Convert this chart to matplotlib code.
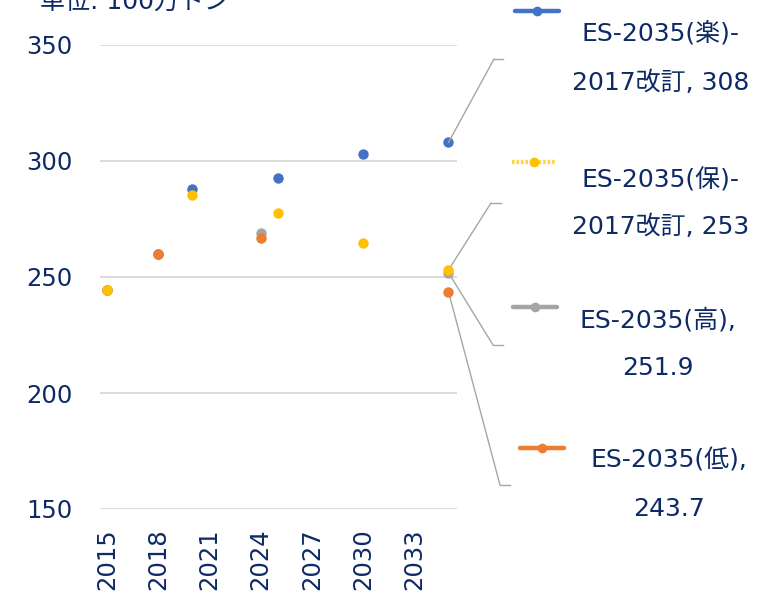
import matplotlib.pyplot as plt
from matplotlib.lines import Line2D

plt.rcParams['font.family'] = ['DejaVu Sans', 'Noto Sans CJK JP']

# data (unit: 100万トン)
years_raku = [2015, 2018, 2020, 2025, 2030, 2035]
vals_raku = [244.5, 260, 288, 292.5, 303, 308]
years_ho = [2015, 2020, 2025, 2030, 2035]
vals_ho = [244.5, 285.5, 277.5, 264.5, 253]
years_ko = [2015, 2018, 2024, 2035]
vals_ko = [244.5, 260, 269, 251.9]
years_tei = [2015, 2018, 2024, 2035]
vals_tei = [244.5, 260, 267, 243.7]

names = ['ES-2035(楽)-\n2017改訂', 'ES-2035(保)-\n2017改訂', 'ES-2035(高),\n', 'ES-2035(低),\n']
label_vals = ['308', '253', '251.9', '243.7']
colors = ['#4472C4', '#FFC000', '#A5A5A5', '#ED7D31']
xticks = [2015, 2018, 2021, 2024, 2027, 2030, 2033]
yticks = [150, 200, 250, 300, 350]
unit_text = '単位: 100万トン'

navy = '#0E2A66'
W, H = 767, 591


def px(x, y):
    return (x / W, 1 - y / H)


fig = plt.figure(figsize=(7.67, 5.91), dpi=100)
ax = fig.add_axes([100 / W, 1 - 509 / H, 357 / W, 464 / H])

series = [(years_raku, vals_raku), (years_ho, vals_ho), (years_ko, vals_ko), (years_tei, vals_tei)]
# draw order: blue, gray, orange, yellow (yellow sits on top)
for z, i in enumerate([0, 2, 3, 1]):
    xs, ys = series[i]
    ax.plot(xs, ys, 'o', color=colors[i], markersize=7.5, markeredgewidth=0, zorder=3 + z * 0.1)

ax.set_xlim(2014.6, 2035.5)
ax.set_ylim(150, 350)
ax.set_xticks(xticks)
ax.set_xticklabels([str(x) for x in xticks], rotation=90, fontsize=17.5, color=navy)
ax.set_yticks(yticks)
ax.set_yticklabels([str(y) for y in yticks], fontsize=17.5, color=navy)
ax.tick_params(axis='both', length=0)
ax.tick_params(axis='y', pad=20)
ax.tick_params(axis='x', pad=14)
ax.yaxis.grid(True, color='#D9D9D9', lw=1.3)
ax.set_axisbelow(True)
for s in ax.spines.values():
    s.set_visible(False)

fig.text(*px(40, 9), unit_text, fontsize=18, color=navy, va='baseline', ha='left')

# data-label callouts: (key y, key x0, text center x, line1 y, line2 y, elbow, end)
layout = [
    (11, 515, 661, 33, 83, (494, 59), (503, 59)),
    (162, 512, 661, 180, 227, (491, 203), (501, 203)),
    (307, 513, 658, 320, 368, (493, 345), (503, 345)),
    (448, 520, 669, 460, 509, (500, 485), (510, 485)),
]
final_vals = [vals_raku[-1], vals_ho[-1], vals_ko[-1], vals_tei[-1]]
for i, (ky, kx, tx, y1, y2, elbow, end) in enumerate(layout):
    first = names[i].split('\n')[0]
    second = names[i].split('\n')[1]
    line2 = (second + ', ' + label_vals[i]) if second else label_vals[i]
    fig.text(*px(tx, y1), first, fontsize=18, color=navy, ha='center', va='center')
    fig.text(*px(tx, y2), line2, fontsize=18, color=navy, ha='center', va='center')
    # legend key
    ls = (0, (0.6, 0.4)) if i == 1 else '-'
    kc = '#FFD54F' if i == 1 else colors[i]
    fig.add_artist(Line2D([kx / W, (kx + 44) / W], [1 - ky / H] * 2, color=kc, lw=3.2,
                          linestyle=ls, solid_capstyle='round'))
    fig.add_artist(Line2D([(kx + 22) / W], [1 - ky / H], marker='o', color=colors[i],
                          markersize=7, markeredgewidth=0))
    # leader line
    ax.annotate('', xy=(2035, final_vals[i]), xycoords='data',
                xytext=px(*elbow), textcoords='figure fraction',
                arrowprops=dict(arrowstyle='-', color='#A6A6A6', lw=1, shrinkA=0, shrinkB=0))
    fig.add_artist(Line2D([elbow[0] / W, end[0] / W], [1 - elbow[1] / H] * 2,
                          color='#A6A6A6', lw=1))

fig.savefig('out.png', dpi=100)
